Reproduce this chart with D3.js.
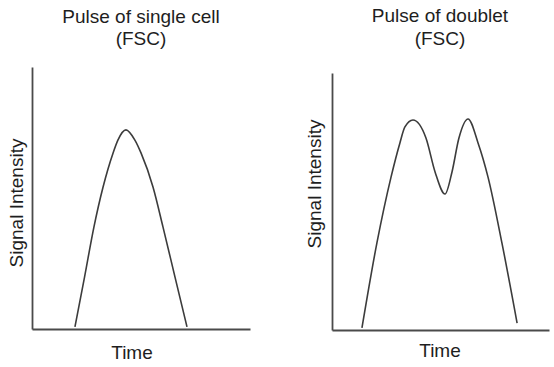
<!DOCTYPE html>
<html lang="en">
<head>
  <meta charset="UTF-8">
  <title>Pulse of single cell vs doublet (FSC)</title>
  <style>
    body {
      margin: 0;
      background: #ffffff;
    }
    svg text {
      font-family: "Liberation Sans", Arial, sans-serif;
      fill: #1e1e1e;
    }
    .axis path {
      stroke: #4a4a4a;
      stroke-width: 1.8;
    }
  </style>
</head>
<body>
<div id="chart"></div>
<script src="https://d3js.org/d3.v7.min.js"></script>
<script>
  // panel text
  const titles = [["Pulse of single cell", "(FSC)"], ["Pulse of doublet", "(FSC)"]];
  const xLabel = "Time";
  const yLabel = "Signal Intensity";

  // single cell pulse (time, signal) in arbitrary units 0-100
  const singleTime   = [19.7, 24.1, 28.4, 32.6, 37.2, 39.4, 43.1, 47.2, 50.0, 55.5, 60.1, 65.6, 71.1];
  const singleSignal = [0.8, 19.8, 38.9, 54.2, 67.2, 72.1, 76.0, 72.1, 67.2, 54.2, 38.9, 19.8, 0.8];

  // doublet pulse
  const doubletTime   = [13.8, 20.7, 27.2, 31.3, 33.6, 37.3, 43.3, 47.5, 52.1, 55.3, 58.5, 62.7, 67.3, 71.9, 78.3, 85.3];
  const doubletSignal = [0.8, 33.9, 59.5, 72.8, 79.0, 81.7, 74.7, 61.5, 52.9, 61.5, 74.7, 82.1, 72.8, 59.5, 33.9, 2.7];

  const width = 554;
  const height = 367;

  const svg = d3.select("#chart").append("svg")
      .attr("width", width)
      .attr("height", height);

  // each panel: plot box in pixels
  const panels = [
    { left: 32, right: 250, top: 67, bottom: 329, time: singleTime, signal: singleSignal,
      titleX: 141, titleY: [23, 45], xLabelX: 132, xLabelY: 359, yLabelX: 23, yLabelY: 203 },
    { left: 332, right: 549, top: 73, bottom: 330, time: doubletTime, signal: doubletSignal,
      titleX: 440, titleY: [22, 45], xLabelX: 440, xLabelY: 357, yLabelX: 321, yLabelY: 184 }
  ];

  panels.forEach((p, i) => {
    const x = d3.scaleLinear().domain([0, 100]).range([p.left, p.right]);
    const y = d3.scaleLinear().domain([0, 100]).range([p.bottom, p.top]);

    const g = svg.append("g");

    // axes without ticks, just the lines
    g.append("g")
        .attr("class", "axis")
        .attr("transform", `translate(0,${p.bottom})`)
        .call(d3.axisBottom(x).tickValues([]).tickSizeOuter(0));
    g.append("g")
        .attr("class", "axis")
        .attr("transform", `translate(${p.left},0)`)
        .call(d3.axisLeft(y).tickValues([]).tickSizeOuter(0));

    const pts = p.time.map((t, k) => [t, p.signal[k]]);
    const line = d3.line()
        .x(d => x(d[0]))
        .y(d => y(d[1]))
        .curve(d3.curveMonotoneX);

    g.append("path")
        .datum(pts)
        .attr("fill", "none")
        .attr("stroke", "#3c3c3c")
        .attr("stroke-width", 1.6)
        .attr("d", line);

    // titles
    titles[i].forEach((t, k) => {
      g.append("text")
          .attr("x", p.titleX)
          .attr("y", p.titleY[k])
          .attr("text-anchor", "middle")
          .style("font-size", "19px")
          .text(t);
    });

    g.append("text")
        .attr("x", p.xLabelX)
        .attr("y", p.xLabelY)
        .attr("text-anchor", "middle")
        .style("font-size", "19px")
        .text(xLabel);

    g.append("text")
        .attr("transform", `translate(${p.yLabelX},${p.yLabelY}) rotate(-90)`)
        .attr("text-anchor", "middle")
        .style("font-size", "19px")
        .text(yLabel);
  });
</script>
</body>
</html>
